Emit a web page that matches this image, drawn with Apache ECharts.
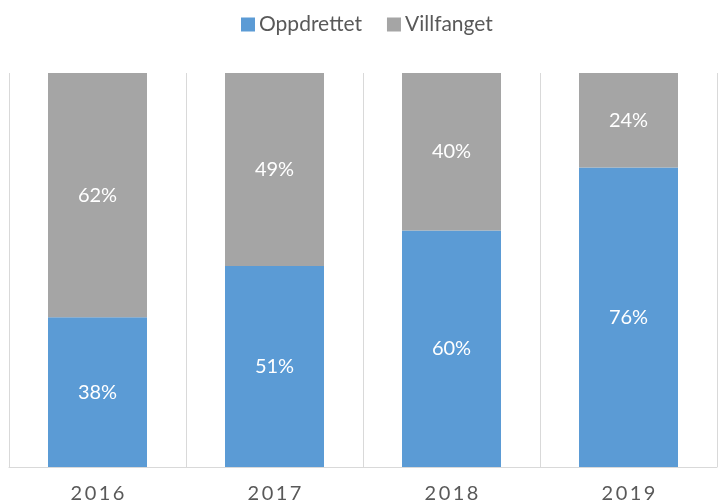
<!DOCTYPE html>
<html><head><meta charset="utf-8">
<script src="https://cdn.jsdelivr.net/npm/echarts@6/dist/echarts.min.js"></script>
<style>html,body{margin:0;padding:0;background:#fff}#c{width:718px;height:504px}</style>
</head><body><div id="c"></div>
<script>
const categories = ['2016','2017','2018','2019'];
const oppdrettet = [38, 51, 60, 76];
const villfanget = [62, 49, 40, 24];
const seriesNames = ['Oppdrettet', 'Villfanget'];

const chart = echarts.init(document.getElementById('c'));
const font = 'Lato, "Open Sans", sans-serif';
chart.setOption({
  animation: false,
  textStyle: { fontFamily: font },
  legend: {
    top: 9, left: 236, itemWidth: 14, itemHeight: 14, itemGap: 25,
    icon: 'rect',
    textStyle: { fontSize: 21, color: '#595959', fontFamily: font, padding: [0, 0, 0, -1] },
    data: seriesNames
  },
  grid: { left: 9, right: 1, top: 73, bottom: 36 },
  xAxis: {
    type: 'category', data: categories,
    axisLine: { lineStyle: { color: '#d9d9d9', width: 1 } },
    axisTick: { show: false },
    splitLine: { show: true, lineStyle: { color: '#d9d9d9', width: 1 } },
    axisLabel: {
      fontSize: 20, color: '#595959', margin: 17, fontFamily: font,
      formatter: v => v.split('').join('\u2009')
    }
  },
  yAxis: { type: 'value', min: 0, max: 100, show: false, splitLine: { show: false } },
  series: [
    {
      name: seriesNames[0], type: 'bar', stack: 'a', barWidth: 99,
      data: oppdrettet, itemStyle: { color: '#5b9bd5' },
      label: { show: true, position: 'inside', formatter: '{c}%', color: '#fff', fontSize: 20, fontFamily: font }
    },
    {
      name: seriesNames[1], type: 'bar', stack: 'a', barWidth: 99,
      data: villfanget, itemStyle: { color: '#a5a5a5' },
      label: { show: true, position: 'inside', formatter: '{c}%', color: '#fff', fontSize: 20, fontFamily: font }
    }
  ]
});
</script></body></html>
